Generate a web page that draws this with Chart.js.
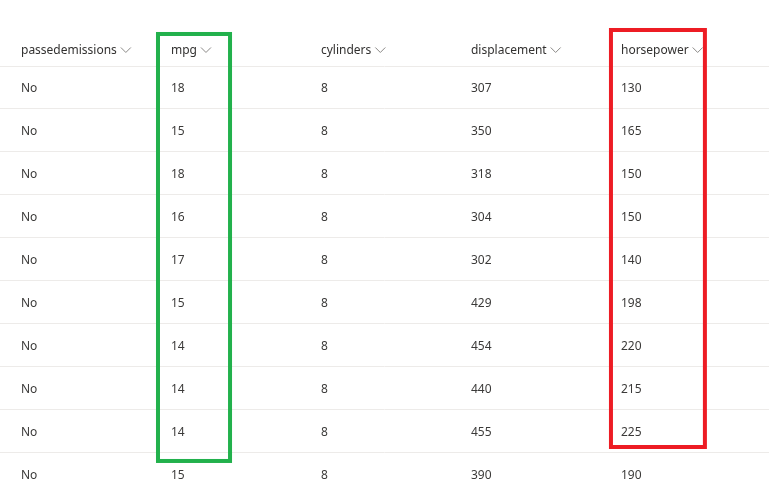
<!DOCTYPE html>
<html>
<head>
<meta charset="utf-8">
<script src="https://cdn.jsdelivr.net/npm/chart.js@4"></script>
<style>
  body { margin: 0; background: #fff; }
</style>
</head>
<body>
<canvas id="tbl" width="769" height="492"></canvas>
<script>
// table content
const columns = ['passedemissions', 'mpg', 'cylinders', 'displacement', 'horsepower'];
const passedemissions = ['No', 'No', 'No', 'No', 'No', 'No', 'No', 'No', 'No', 'No'];
const mpg = [18, 15, 18, 16, 17, 15, 14, 14, 14, 15];
const cylinders = [8, 8, 8, 8, 8, 8, 8, 8, 8, 8];
const displacement = [307, 350, 318, 304, 302, 429, 454, 440, 455, 390];
const horsepower = [130, 165, 150, 150, 140, 198, 220, 215, 225, 190];
const tableCols = [passedemissions, mpg, cylinders, displacement, horsepower];

// highlighted columns, in scale units
const highlights = [
    { color: '#22b14c', x0: 0.9, x1: 1.407, y0: -1.279, y1: 8.744 },
    { color: '#ed1c24', x0: 3.92, x1: 4.573, y0: -1.372, y1: 8.419 }
];

const headerRow = -0.884;
const FONT = '12px "Noto Sans", "Open Sans", sans-serif';

const tablePlugin = {
    id: 'tablePlugin',
    afterDraw(chart) {
        const ctx = chart.ctx;
        const xs = chart.scales.x, ys = chart.scales.y;
        ctx.save();
        // grid lines
        ctx.strokeStyle = '#edebe9';
        ctx.lineWidth = 1;
        const lines = [-0.488];
        for (let r = 0; r < passedemissions.length - 1; r++) lines.push(r + 0.5);
        lines.forEach(v => {
            const y = Math.round(ys.getPixelForValue(v)) + 0.5;
            ctx.beginPath(); ctx.moveTo(0, y); ctx.lineTo(chart.width, y); ctx.stroke();
        });
        // header
        ctx.font = FONT;
        ctx.textBaseline = 'middle';
        columns.forEach((c, i) => {
            const x = xs.getPixelForValue(i);
            const y = ys.getPixelForValue(headerRow) + 1.5;
            ctx.fillStyle = '#323130';
            ctx.fillText(c, x, y);
            const w = ctx.measureText(c).width;
            ctx.strokeStyle = '#8a8886';
            ctx.beginPath();
            ctx.moveTo(x + w + 4, y - 3);
            ctx.lineTo(x + w + 9, y + 2);
            ctx.lineTo(x + w + 14, y - 3);
            ctx.stroke();
        });
        // cells
        ctx.fillStyle = '#3b3a39';
        tableCols.forEach((col, i) => {
            col.forEach((v, r) => {
                ctx.fillText(String(v), xs.getPixelForValue(i), ys.getPixelForValue(r) + 1.5);
            });
        });
        // highlight boxes
        ctx.lineWidth = 4;
        highlights.forEach(h => {
            ctx.strokeStyle = h.color;
            const x0 = xs.getPixelForValue(h.x0), x1 = xs.getPixelForValue(h.x1);
            const y0 = ys.getPixelForValue(h.y0), y1 = ys.getPixelForValue(h.y1);
            ctx.strokeRect(x0 + 2, y0 + 2, x1 - x0 - 4, y1 - y0 - 4);
        });
        ctx.restore();
    }
};

new Chart(document.getElementById('tbl'), {
    type: 'scatter',
    data: { datasets: [{ data: [], pointRadius: 0 }] },
    options: {
        responsive: false,
        animation: false,
        layout: { padding: 0 },
        plugins: { legend: { display: false }, tooltip: { enabled: false } },
        scales: {
            x: { type: 'linear', min: -0.14, max: 4.987, display: false },
            y: { type: 'linear', min: -2.023, max: 9.419, reverse: true, display: false }
        }
    },
    plugins: [tablePlugin]
});
</script>
</body>
</html>
